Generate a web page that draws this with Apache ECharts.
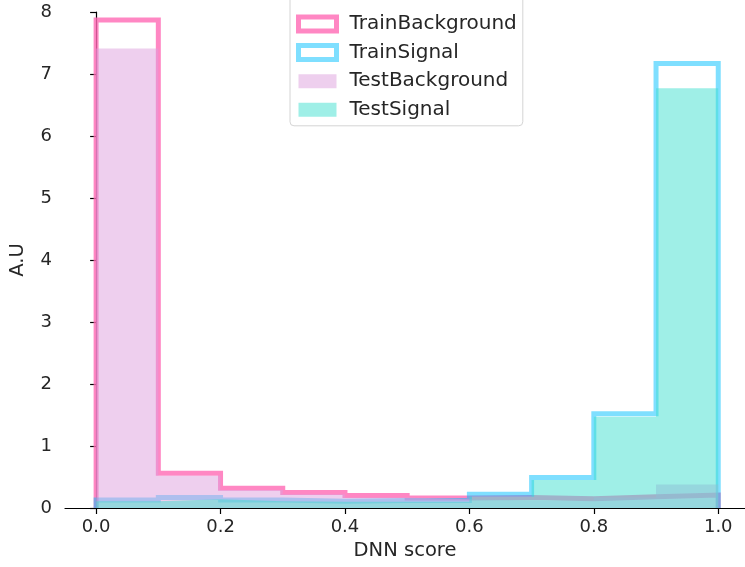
<!DOCTYPE html>
<html>
<head>
<meta charset="utf-8">
<script src="https://cdn.jsdelivr.net/npm/echarts@6/dist/echarts.min.js"></script>
<style>html,body{margin:0;padding:0;background:#fff}#c{width:745px;height:567px}</style>
</head>
<body>
<div id="c"></div>
<script>
const binEdges = [0, 0.1, 0.2, 0.3, 0.4, 0.5, 0.6, 0.7, 0.8, 0.9, 1.0];
const trainBackground = [7.87, 0.56, 0.32, 0.25, 0.20, 0.16, 0.17, 0.15, 0.18, 0.21];
const trainSignal = [0.13, 0.17, 0.13, 0.11, 0.12, 0.12, 0.22, 0.49, 1.52, 7.17];
const testBackground = [7.41, 0.52, 0.29, 0.22, 0.17, 0.14, 0.12, 0.12, 0.17, 0.38];
const testSignal = [0.11, 0.14, 0.11, 0.10, 0.10, 0.10, 0.18, 0.45, 1.47, 6.77];
const xTicks = [0, 0.2, 0.4, 0.6, 0.8, 1.0];
const seriesNames = ['TrainBackground', 'TrainSignal', 'TestBackground', 'TestSignal'];

function stepOutline(vals) {
  const pts = [[binEdges[0], 0]];
  for (let i = 0; i < vals.length; i++) {
    pts.push([binEdges[i], vals[i]]);
    pts.push([binEdges[i + 1], vals[i]]);
  }
  pts.push([binEdges[binEdges.length - 1], 0]);
  return pts;
}
function stepFill(vals) {
  const pts = [];
  for (let i = 0; i < vals.length; i++) pts.push([binEdges[i], vals[i]]);
  pts.push([binEdges[binEdges.length - 1], vals[vals.length - 1]]);
  return pts;
}

const pinkLine = 'rgba(255,105,180,0.8)';
const blueLine = 'rgba(0,191,255,0.5)';
const plumFill = 'rgba(221,160,221,0.5)';
const turqFill = 'rgba(64,224,208,0.5)';
const font = 'DejaVu Sans';
const txt = '#262626';

const chart = echarts.init(document.getElementById('c'), null, {renderer: 'canvas'});
chart.setOption({
  animation: false,
  grid: {left: 63, top: 12, right: 0, height: 496, containLabel: false},
  xAxis: {
    type: 'value', min: -0.05, max: 1.043,
    name: 'DNN score', nameLocation: 'middle', nameGap: 30,
    nameTextStyle: {fontFamily: font, fontSize: 19.5, color: txt},
    axisLine: {show: true, onZero: false, lineStyle: {color: '#000', width: 1.2}},
    axisTick: {show: true, length: 6, lineStyle: {color: '#000', width: 1.2}, customValues: xTicks},
    axisLabel: {fontFamily: font, fontSize: 18, color: txt, margin: 10, customValues: xTicks,
      formatter: v => v.toFixed(1)},
    splitLine: {show: false}
  },
  yAxis: {
    type: 'value', min: 0, max: 8, interval: 1,
    name: 'A.U', nameLocation: 'middle', nameGap: 37,
    nameTextStyle: {fontFamily: font, fontSize: 19.5, color: txt},
    axisLine: {show: true, lineStyle: {color: '#000', width: 1.2}},
    axisTick: {show: true, length: 6, lineStyle: {color: '#000', width: 1.2}},
    axisLabel: {fontFamily: font, fontSize: 18, color: txt, margin: 13},
    splitLine: {show: false}
  },
  legend: {
    orient: 'vertical', left: 290, top: -4,
    padding: [18, 6, 6, 6],
    itemWidth: 38, itemHeight: 14, itemGap: 8.6,
    backgroundColor: '#fff', borderColor: '#d4d4d4', borderWidth: 1, borderRadius: 4,
    textStyle: {fontFamily: font, fontSize: 20, color: txt, padding: [0, 0, 0, 8]},
    data: [
      {name: seriesNames[0], icon: 'rect', itemStyle: {color: '#fff', borderColor: pinkLine, borderWidth: 5}},
      {name: seriesNames[1], icon: 'rect', itemStyle: {color: '#fff', borderColor: blueLine, borderWidth: 5}},
      {name: seriesNames[2], icon: 'rect', itemStyle: {color: plumFill, borderWidth: 0}},
      {name: seriesNames[3], icon: 'rect', itemStyle: {color: turqFill, borderWidth: 0}}
    ]
  },
  series: [
    {name: seriesNames[0], type: 'line', z: 2, data: stepOutline(trainBackground), showSymbol: false, symbol: 'none',
      lineStyle: {color: pinkLine, width: 5, join: 'miter'}, itemStyle: {color: pinkLine}},
    {name: seriesNames[1], type: 'line', z: 2, data: stepOutline(trainSignal), showSymbol: false, symbol: 'none',
      lineStyle: {color: blueLine, width: 5, join: 'miter'}, itemStyle: {color: blueLine}},
    {name: seriesNames[2], type: 'line', z: 3, step: 'end', data: stepFill(testBackground), showSymbol: false, symbol: 'none',
      lineStyle: {width: 0}, areaStyle: {color: plumFill, opacity: 1}, itemStyle: {color: plumFill}},
    {name: seriesNames[3], type: 'line', z: 4, step: 'end', data: stepFill(testSignal), showSymbol: false, symbol: 'none',
      lineStyle: {width: 0}, areaStyle: {color: turqFill, opacity: 1}, itemStyle: {color: turqFill}}
  ]
});
</script>
</body>
</html>
